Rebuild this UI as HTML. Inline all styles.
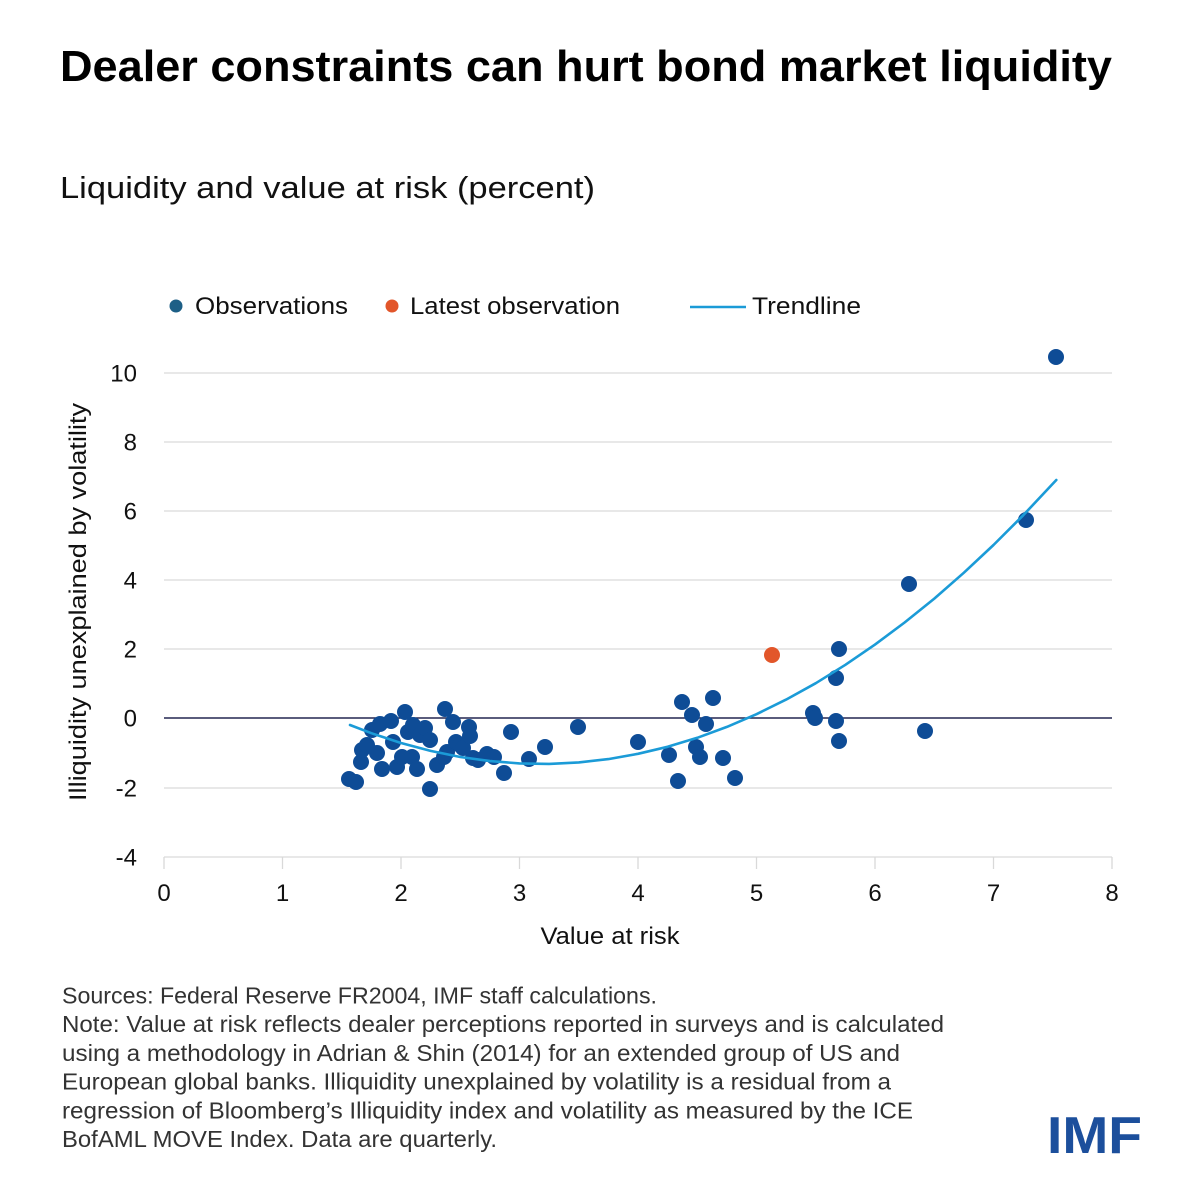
<!DOCTYPE html>
<html>
<head>
<meta charset="utf-8">
<style>
  html, body { margin: 0; padding: 0; background: #ffffff; }
  svg { display: block; }
  text { font-family: "Liberation Sans", "DejaVu Sans", sans-serif; }
</style>
</head>
<body>
<svg width="1200" height="1200" viewBox="0 0 1200 1200" xmlns="http://www.w3.org/2000/svg">
  <rect x="0" y="0" width="1200" height="1200" fill="#ffffff"/>

  <!-- Title -->
  <text x="60" y="81" font-size="44" font-weight="bold" fill="#000" textLength="1052" lengthAdjust="spacingAndGlyphs">Dealer constraints can hurt bond market liquidity</text>
  <!-- Subtitle -->
  <text x="60" y="198" font-size="31" fill="#111" textLength="535" lengthAdjust="spacingAndGlyphs">Liquidity and value at risk (percent)</text>

  <!-- Legend -->
  <circle cx="176" cy="306" r="6.5" fill="#1d5f86"/>
  <text x="195" y="314" font-size="24" fill="#111" textLength="153" lengthAdjust="spacingAndGlyphs">Observations</text>
  <circle cx="392" cy="306" r="6.5" fill="#e2562a"/>
  <text x="410" y="314" font-size="24" fill="#111" textLength="210" lengthAdjust="spacingAndGlyphs">Latest observation</text>
  <line x1="690" y1="307" x2="746" y2="307" stroke="#1b9bd7" stroke-width="2.5"/>
  <text x="752" y="314" font-size="24" fill="#111" textLength="109" lengthAdjust="spacingAndGlyphs">Trendline</text>

  <!-- Gridlines -->
  <g stroke="#d9d9d9" stroke-width="1.3">
    <line x1="164" y1="373" x2="1112" y2="373"/>
    <line x1="164" y1="442" x2="1112" y2="442"/>
    <line x1="164" y1="511" x2="1112" y2="511"/>
    <line x1="164" y1="580" x2="1112" y2="580"/>
    <line x1="164" y1="649" x2="1112" y2="649"/>
    <line x1="164" y1="788" x2="1112" y2="788"/>
    <!-- bottom axis -->
    <line x1="164" y1="857" x2="1112" y2="857"/>
    <line x1="164" y1="857" x2="164" y2="869"/>
    <line x1="282.5" y1="857" x2="282.5" y2="869"/>
    <line x1="401" y1="857" x2="401" y2="869"/>
    <line x1="519.5" y1="857" x2="519.5" y2="869"/>
    <line x1="638" y1="857" x2="638" y2="869"/>
    <line x1="756.5" y1="857" x2="756.5" y2="869"/>
    <line x1="875" y1="857" x2="875" y2="869"/>
    <line x1="993.5" y1="857" x2="993.5" y2="869"/>
    <line x1="1112" y1="857" x2="1112" y2="869"/>
  </g>
  <!-- zero line -->
  <line x1="164" y1="718" x2="1112" y2="718" stroke="#232650" stroke-width="1.6"/>

  <!-- Y tick labels -->
  <g font-size="24" fill="#111" text-anchor="end">
    <text x="137" y="381.5">10</text>
    <text x="137" y="450.5">8</text>
    <text x="137" y="519.5">6</text>
    <text x="137" y="588.5">4</text>
    <text x="137" y="657.5">2</text>
    <text x="137" y="726.5">0</text>
    <text x="137" y="796.5">-2</text>
    <text x="137" y="865.5">-4</text>
  </g>

  <!-- X tick labels -->
  <g font-size="24" fill="#111" text-anchor="middle">
    <text x="164" y="901">0</text>
    <text x="282.5" y="901">1</text>
    <text x="401" y="901">2</text>
    <text x="519.5" y="901">3</text>
    <text x="638" y="901">4</text>
    <text x="756.5" y="901">5</text>
    <text x="875" y="901">6</text>
    <text x="993.5" y="901">7</text>
    <text x="1112" y="901">8</text>
  </g>

  <!-- Axis titles -->
  <text x="610" y="944" font-size="24" fill="#111" text-anchor="middle" textLength="139" lengthAdjust="spacingAndGlyphs">Value at risk</text>
  <text transform="translate(86,602) rotate(-90)" x="0" y="0" font-size="24" fill="#111" text-anchor="middle" textLength="398" lengthAdjust="spacingAndGlyphs">Illiquidity unexplained by volatility</text>

  <!-- Observations -->
  <g fill="#0e4c96">
    <circle cx="349" cy="779" r="8"/>
    <circle cx="356" cy="782" r="8"/>
    <circle cx="361" cy="762" r="8"/>
    <circle cx="362" cy="750" r="8"/>
    <circle cx="367" cy="745" r="8"/>
    <circle cx="372" cy="730" r="8"/>
    <circle cx="377" cy="753" r="8"/>
    <circle cx="380" cy="724" r="8"/>
    <circle cx="382" cy="769" r="8"/>
    <circle cx="391" cy="721" r="8"/>
    <circle cx="393" cy="742" r="8"/>
    <circle cx="397" cy="767" r="8"/>
    <circle cx="402" cy="757" r="8"/>
    <circle cx="405" cy="712" r="8"/>
    <circle cx="408" cy="732" r="8"/>
    <circle cx="412" cy="757" r="8"/>
    <circle cx="413" cy="725" r="8"/>
    <circle cx="417" cy="769" r="8"/>
    <circle cx="420" cy="735" r="8"/>
    <circle cx="425" cy="728" r="8"/>
    <circle cx="430" cy="740" r="8"/>
    <circle cx="430" cy="789" r="8"/>
    <circle cx="437" cy="765" r="8"/>
    <circle cx="444" cy="757" r="8"/>
    <circle cx="445" cy="709" r="8"/>
    <circle cx="447" cy="752" r="8"/>
    <circle cx="453" cy="722" r="8"/>
    <circle cx="456" cy="742" r="8"/>
    <circle cx="460" cy="745" r="8"/>
    <circle cx="463" cy="748" r="8"/>
    <circle cx="469" cy="727" r="8"/>
    <circle cx="470" cy="736" r="8"/>
    <circle cx="473" cy="758" r="8"/>
    <circle cx="478" cy="760" r="8"/>
    <circle cx="487" cy="754" r="8"/>
    <circle cx="494" cy="757" r="8"/>
    <circle cx="504" cy="773" r="8"/>
    <circle cx="511" cy="732" r="8"/>
    <circle cx="529" cy="759" r="8"/>
    <circle cx="545" cy="747" r="8"/>
    <circle cx="578" cy="727" r="8"/>
    <circle cx="638" cy="742" r="8"/>
    <circle cx="669" cy="755" r="8"/>
    <circle cx="678" cy="781" r="8"/>
    <circle cx="682" cy="702" r="8"/>
    <circle cx="692" cy="715" r="8"/>
    <circle cx="696" cy="747" r="8"/>
    <circle cx="700" cy="757" r="8"/>
    <circle cx="706" cy="724" r="8"/>
    <circle cx="713" cy="698" r="8"/>
    <circle cx="723" cy="758" r="8"/>
    <circle cx="735" cy="778" r="8"/>
    <circle cx="813" cy="713" r="8"/>
    <circle cx="815" cy="718" r="8"/>
    <circle cx="836" cy="721" r="8"/>
    <circle cx="836" cy="678" r="8"/>
    <circle cx="839" cy="649" r="8"/>
    <circle cx="839" cy="741" r="8"/>
    <circle cx="909" cy="584" r="8"/>
    <circle cx="925" cy="731" r="8"/>
    <circle cx="1026" cy="520" r="8"/>
    <circle cx="1056" cy="357" r="8"/>
  </g>
  <!-- Latest observation -->
  <circle cx="772" cy="655" r="8" fill="#e2562a"/>

  <!-- Trendline -->
  <polyline fill="none" stroke="#1b9bd7" stroke-width="2.6" stroke-linejoin="round" stroke-linecap="round"
    points="350,725 371.4,733.2 401,743 430.6,750.9 460.3,757 489.9,761.1 519.5,763.4 549.1,763.9 578.8,762.4 608.4,759.1 638,753.8 667.6,746.8 697.3,737.8 726.9,726.9 756.5,714.2 786.1,699.6 815.8,683.2 845.4,664.8 875,644.6 904.6,622.5 934.3,598.6 963.9,572.7 993.5,545 1023.1,515.4 1056.3,480"/>

  <!-- Footnotes -->
  <g font-size="23" fill="#333">
    <text x="62" y="1003.5" textLength="595" lengthAdjust="spacingAndGlyphs">Sources: Federal Reserve FR2004, IMF staff calculations.</text>
    <text x="62" y="1032.2" textLength="882" lengthAdjust="spacingAndGlyphs">Note: Value at risk reflects dealer perceptions reported in surveys and is calculated</text>
    <text x="62" y="1060.9" textLength="838" lengthAdjust="spacingAndGlyphs">using a methodology in Adrian &amp; Shin (2014) for an extended group of US and</text>
    <text x="62" y="1089.6" textLength="829" lengthAdjust="spacingAndGlyphs">European global banks. Illiquidity unexplained by volatility is a residual from a</text>
    <text x="62" y="1118.3" textLength="851" lengthAdjust="spacingAndGlyphs">regression of Bloomberg’s Illiquidity index and volatility as measured by the ICE</text>
    <text x="62" y="1147" textLength="435" lengthAdjust="spacingAndGlyphs">BofAML MOVE Index. Data are quarterly.</text>
  </g>

  <!-- IMF logo -->
  <text x="1047" y="1153" font-size="52" font-weight="bold" fill="#1c4f9c" textLength="95" lengthAdjust="spacingAndGlyphs">IMF</text>
</svg>
</body>
</html>
